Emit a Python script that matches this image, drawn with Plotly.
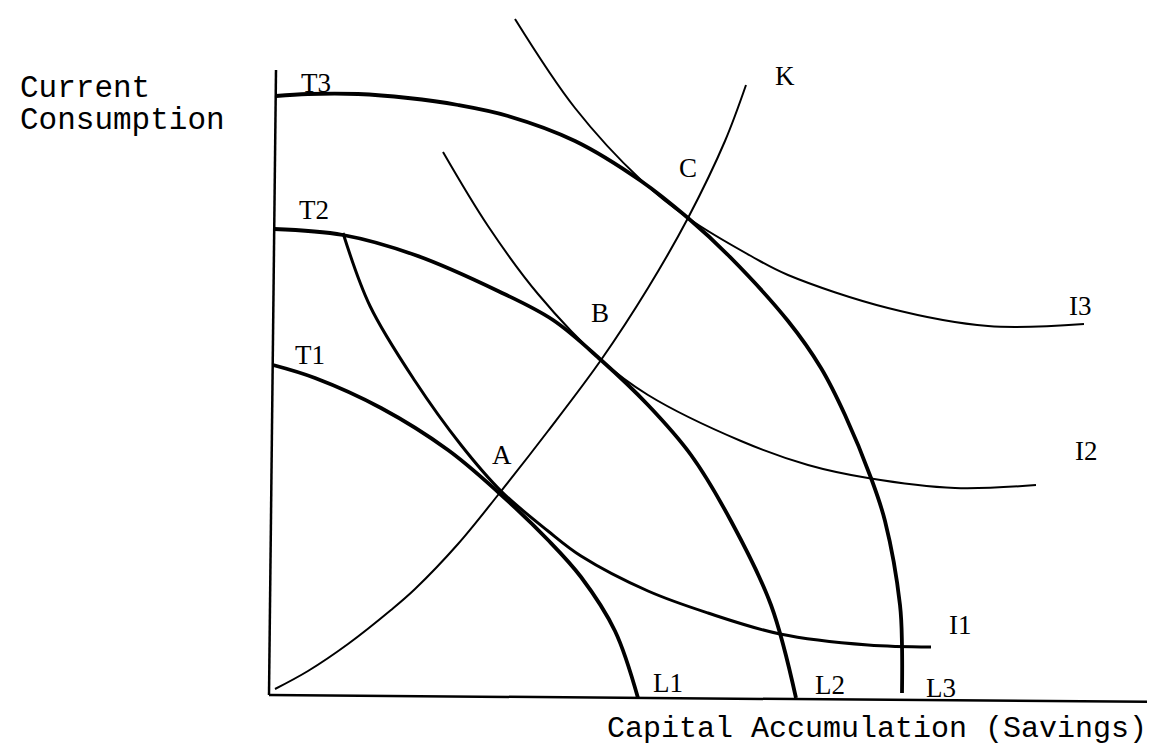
import plotly.graph_objects as go

# Coordinates in chart units: origin at the corner of the hand-drawn axes
# T curves: transformation (production possibility) frontiers
t3_x = [7, 39, 89, 139, 189, 239, 306, 372, 419, 459, 519, 552, 576, 602, 616, 631, 633, 633]
t3_y = [599, 601, 601, 597, 590, 579, 554, 514, 477, 440, 374, 327, 280, 217, 174, 90, 49, 2]

t2_x = [5, 74, 146, 229, 284, 332, 379, 422, 462, 502, 527]
t2_y = [466, 460, 440, 404, 375, 335, 290, 240, 174, 90, -3]

t1_x = [4, 46, 112, 179, 229, 279, 312, 346, 369]
t1_y = [330, 317, 287, 245, 203, 155, 118, 64, -3]

# K: expansion path through A, B, C
k_x = [6, 39, 79, 122, 146, 189, 229, 279, 332, 379, 419, 456, 477]
k_y = [6, 24, 51, 85, 106, 151, 200, 264, 335, 407, 477, 554, 610]

# I curves: indifference curves
i3_x = [246, 306, 372, 419, 482, 519, 619, 719, 815]
i3_y = [676, 587, 515, 477, 439, 420, 387, 369, 371]

i2_x = [174, 219, 269, 332, 379, 472, 539, 599, 686, 767]
i2_y = [543, 469, 401, 335, 300, 254, 230, 217, 207, 210]

i1_x = [74, 101, 146, 192, 232, 279, 312, 379, 439, 511, 599, 662]
i1_y = [462, 389, 314, 250, 204, 164, 139, 104, 82, 61, 50, 48]

# hand-drawn axes
yaxis_x = [7, 0]
yaxis_y = [625, 0]
xaxis_x = [0, 894]
xaxis_y = [0, -7]

# point / curve labels
label_text = ["T3", "T2", "T1", "C", "K", "B", "A", "I3", "I2", "I1", "L1", "L2", "L3"]
label_x = [47, 45, 41, 419, 516, 331, 233, 811, 817, 691, 399, 561, 672]
label_y = [612, 485, 340, 527, 619, 382, 240, 389, 244, 70, 12, 10, 7]

fig = go.Figure()

def curve(x, y, w, shape="spline"):
    fig.add_trace(go.Scatter(x=x, y=y, mode="lines",
                             line=dict(color="black", width=w, shape=shape, smoothing=1.0),
                             hoverinfo="skip", showlegend=False))

curve(yaxis_x, yaxis_y, 2.5, "linear")
curve(xaxis_x, xaxis_y, 2.5, "linear")
curve(t3_x, t3_y, 3.8)
curve(t2_x, t2_y, 3.8)
curve(t1_x, t1_y, 3.8)
curve(k_x, k_y, 2.0)
curve(i3_x, i3_y, 2.0)
curve(i2_x, i2_y, 2.0)
curve(i1_x, i1_y, 3.0)

serif = "Liberation Serif, Times New Roman, serif"
mono = "Courier New, Liberation Mono, monospace"

for t, x, y in zip(label_text, label_x, label_y):
    fig.add_annotation(x=x, y=y, xref="x", yref="y", text=t, showarrow=False,
                       font=dict(family=serif, size=27, color="black"),
                       xanchor="center", yanchor="middle")

fig.add_annotation(x=-251, y=607, xref="x", yref="y", text="Current", showarrow=False,
                   font=dict(family=mono, size=31, color="black"), xanchor="left", yanchor="middle")
fig.add_annotation(x=-251, y=575, xref="x", yref="y", text="Consumption", showarrow=False,
                   font=dict(family=mono, size=31, color="black"), xanchor="left", yanchor="middle")
fig.add_annotation(x=336, y=-34, xref="x", yref="y", text="Capital Accumulation (Savings)",
                   showarrow=False, font=dict(family=mono, size=30, color="black"),
                   xanchor="left", yanchor="middle")

fig.update_layout(
    width=1155, height=747,
    margin=dict(l=0, r=0, t=0, b=0),
    paper_bgcolor="white", plot_bgcolor="white",
    xaxis=dict(range=[-261, 894], visible=False, fixedrange=True),
    yaxis=dict(range=[-60, 687], visible=False, fixedrange=True),
    showlegend=False,
)

fig.write_html("out.html", config={"displayModeBar": False})
